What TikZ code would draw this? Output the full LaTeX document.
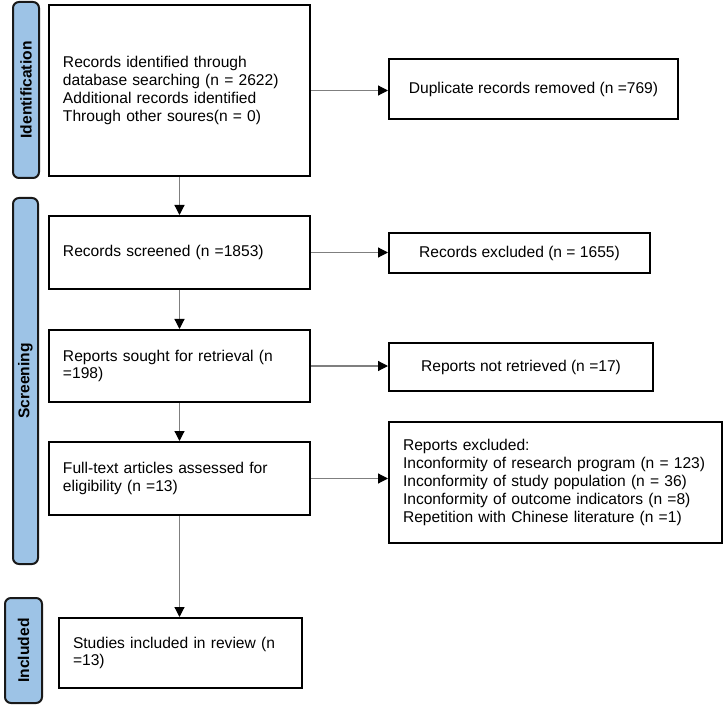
\documentclass[tikz,border=0pt]{standalone}
\usepackage{fontspec}
\setmainfont{Liberation Sans}
\usetikzlibrary{arrows.meta}
\definecolor{phasefill}{HTML}{9DC3E6}
\definecolor{linegray}{HTML}{7F7F7F}
\begin{document}
\begin{tikzpicture}[x=1pt, y=-1pt,
		box/.style = {draw, line width=2pt, inner xsep=14pt, inner ysep=0pt, align=left, font=\fontsize{15.6}{17.8}\selectfont},
		side/.style = {draw, line width=2pt, inner sep=0pt, align=center, font=\fontsize{15.6}{17.8}\selectfont},
		phase/.style = {draw=black!90, fill=phasefill, line width=2pt, rounded corners=6pt, inner sep=0pt, font=\fontsize{15.6}{17.8}\selectfont\bfseries},
		arr/.style = {draw=linegray, line width=1.2pt, -{Triangle[black, length=10pt, width=10pt]}}]
		\useasboundingbox (0,0) rectangle (724,706);
		
		\node[phase, minimum width=176, minimum height=26, rotate=90] (id) at (26,90) {Identification};
		\node[phase, minimum width=366, minimum height=25, rotate=90] (scr) at (25.5,381) {Screening};
		\node[phase, minimum width=105, minimum height=37, rotate=90] (inc) at (23.5,650.5) {Included};
		
		\node[box, minimum height=171, text width=233] (1) at (179.5,90.5) {Records identified through\\database searching (n = 2622)\\Additional records identified\\Through other soures(n = 0)};
		\node[box, minimum height=73, text width=233] (2) at (179.5,252.5) {Records screened (n =1853)};
		\node[box, minimum height=72, text width=233] (3) at (179.5,366) {Reports sought for retrieval (n\\=198)};
		\node[box, minimum height=73, text width=233] (4) at (179.5,478.5) {Full-text articles assessed for\\eligibility (n =13)};
		\node[box, minimum height=70, text width=215] (5) at (180.5,653) {Studies included in review (n\\=13)};
		
		\node[side, minimum width=289, minimum height=60] (dup) at (533.5,89) {Duplicate records removed (n =769)};
		\node[side, minimum width=261, minimum height=40] (ex1) at (519.5,253) {Records excluded (n = 1655)};
		\node[side, minimum width=264, minimum height=48] (nr) at (521,367) {Reports not retrieved (n =17)};
		\node[box, minimum width=333, minimum height=121, text width=305] (ex2) at (555.5,482.5) {Reports excluded:\\Inconformity of research program (n = 123)\\Inconformity of study population (n = 36)\\Inconformity of outcome indicators (n =8)\\Repetition with Chinese literature (n =1)};
		
		\draw[arr] (1) -- (2);
		\draw[arr] (2) -- (3);
		\draw[arr] (3) -- (4);
		\draw[arr] (4.south) -- (4.south |- 5.north);
		
		\draw[arr] (1.east) -- (1.east -| dup.west);
		\draw[arr] (2.east) -- (2.east -| ex1.west);
		\draw[arr] (3.east) -- (3.east -| nr.west);
		\draw[arr] (4.east) -- (4.east -| ex2.west);
		
	\end{tikzpicture}
\end{document}
